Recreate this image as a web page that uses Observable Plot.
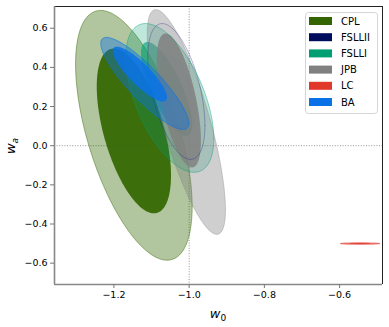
<!DOCTYPE html>
<html>
<head>
<meta charset="utf-8">
<script src="https://cdn.jsdelivr.net/npm/d3@7"></script>
<script src="https://cdn.jsdelivr.net/npm/@observablehq/plot@0.6"></script>
<style>
  html, body { margin: 0; padding: 0; background: #fff; }
  #chart { position: relative; width: 389px; height: 327px; }
</style>
</head>
<body>
<div id="chart"></div>
<script>
// ---- data ----
const models = ["CPL", "FSLLII", "FSLLI", "JPB", "LC", "BA"];
// outer (2σ) contour: centre, half-extent along each axis, correlation
const outerW0  = [-1.147, -1.034, -1.0515, -1.0075, -0.546, -1.118];
const outerWa  = [0.053, 0.277, 0.244, 0.121, -0.500, 0.318];
const outerSW0 = [0.155, 0.076, 0.117, 0.104, 0.052, 0.117];
const outerSWa = [0.638, 0.347, 0.380, 0.574, 0.004, 0.235];
const outerRho = [-0.57, -0.50, -0.55, -0.78, 0.0, -0.87];
// inner (1σ) contour
const innerW0  = [-1.147, -1.030, -1.060, -1.0275, -0.546, -1.131];
const innerWa  = [0.0755, 0.260, 0.290, 0.231, -0.500, 0.366];
const innerSW0 = [0.0987, 0.047, 0.068, 0.0587, 0.030, 0.072];
const innerSWa = [0.421, 0.210, 0.240, 0.342, 0.0025, 0.140];
const innerRho = [-0.54, -0.50, -0.75, -0.60, 0.0, -0.85];
const xTicks = [-1.2, -1.0, -0.8, -0.6];
const yTicks = [-0.6, -0.4, -0.2, 0.0, 0.2, 0.4, 0.6];

// ---- styles ----
const palette = {CPL: "#336600", FSLLII: "#000d5c", FSLLI: "#009e73", JPB: "#808080", LC: "#e0392b", BA: "#0a72e6"};
const outerFillOp = {CPL: 0.38, FSLLII: 0.04, FSLLI: 0.25, JPB: 0.38, LC: 0.5, BA: 0.40};
const innerFillOp = {CPL: 0.92, FSLLII: 0.06, FSLLI: 0.60, JPB: 0.85, LC: 0.9, BA: 0.85};
const outerStrokeOp = {CPL: 0.45, FSLLII: 0, FSLLI: 0, JPB: 0.35, LC: 0.6, BA: 0.6};
const lineOnTop = {FSLLII: 0.4, FSLLI: 0.5};

const xDomain = [-1.358, -0.486];
const yDomain = [-0.709, 0.711];

function ellipse(cx, cy, sx, sy, r, N = 160) {
  const pts = [];
  const q = Math.sqrt(1 - r * r);
  for (let i = 0; i <= N; i++) {
    const t = 2 * Math.PI * i / N;
    pts.push({w0: cx + sx * Math.cos(t), wa: cy + sy * (r * Math.cos(t) + q * Math.sin(t))});
  }
  return pts;
}

const marks = [
  Plot.ruleX([-1], {stroke: "#777", strokeWidth: 0.8, strokeDasharray: "1,1.6"}),
  Plot.ruleY([0], {stroke: "#777", strokeWidth: 0.8, strokeDasharray: "1,1.6"})
];
const outlines = [];
models.forEach((m, i) => {
  const o = ellipse(outerW0[i], outerWa[i], outerSW0[i], outerSWa[i], outerRho[i]);
  const n = ellipse(innerW0[i], innerWa[i], innerSW0[i], innerSWa[i], innerRho[i]);
  marks.push(Plot.line(o, {x: "w0", y: "wa", fill: palette[m], fillOpacity: outerFillOp[m],
    stroke: palette[m], strokeOpacity: outerStrokeOp[m], strokeWidth: 1, clip: true}));
  marks.push(Plot.line(n, {x: "w0", y: "wa", fill: palette[m], fillOpacity: innerFillOp[m],
    stroke: "none", clip: true}));
  if (lineOnTop[m]) {
    outlines.push(Plot.line(o, {x: "w0", y: "wa", fill: "none", stroke: m === "FSLLII" ? "#1a2a8a" : palette[m],
      strokeOpacity: lineOnTop[m], strokeWidth: 0.85, clip: true}));
  }
  if (m === "JPB") marks.push(...outlines);
});
marks.push(
  Plot.ruleX([xDomain[1]], {stroke: "#222", strokeWidth: 1}),
  Plot.ruleY([yDomain[1]], {stroke: "#222", strokeWidth: 1}),
  Plot.ruleX([xDomain[0]], {stroke: "#888", strokeWidth: 1.6}),
  Plot.ruleY([yDomain[0]], {stroke: "#888", strokeWidth: 1.6}),
  Plot.axisX({ticks: xTicks, tickSize: 4, tickPadding: 3, stroke: "#777", tickFormat: d3.format(".1f"), label: null}),
  Plot.axisY({ticks: yTicks, tickSize: 4, tickPadding: 3, stroke: "#777", tickFormat: d3.format(".1f"), label: null})
);

const svg = Plot.plot({
  width: 389, height: 327,
  marginLeft: 54, marginRight: 7, marginTop: 6, marginBottom: 43,
  x: {domain: xDomain},
  y: {domain: yDomain},
  style: {fontFamily: "DejaVu Sans", fontSize: "9.5px", color: "black", background: "white"},
  marks
});

const s = d3.select(svg);
// axis labels
const xl = s.append("text").attr("x", 218).attr("y", 318).attr("text-anchor", "middle")
  .attr("font-family", "DejaVu Sans").attr("font-size", 13);
xl.append("tspan").attr("font-style", "italic").text("w");
xl.append("tspan").attr("font-size", 9).attr("dy", 2.5).text("0");
const yl = s.append("text").attr("transform", "translate(15,146) rotate(-90)").attr("text-anchor", "middle")
  .attr("font-family", "DejaVu Sans").attr("font-size", 13);
yl.append("tspan").attr("font-style", "italic").text("w");
yl.append("tspan").attr("font-size", 9).attr("font-style", "italic").attr("dy", 2.5).text("a");

// legend
const lg = s.append("g");
lg.append("rect").attr("x", 305.5).attr("y", 12.5).attr("width", 72).attr("height", 101).attr("rx", 3)
  .attr("fill", "white").attr("fill-opacity", 0.85).attr("stroke", "#d5d5d5");
models.forEach((m, i) => {
  const cy = 21 + i * 16.2;
  lg.append("rect").attr("x", 309).attr("y", cy - 4).attr("width", 23).attr("height", 8).attr("fill", palette[m]);
  lg.append("text").attr("x", 341).attr("y", cy).attr("dy", "0.35em").attr("text-anchor", "start")
    .attr("font-family", "DejaVu Sans").attr("font-size", 10).attr("fill", "black").text(m);
});

document.getElementById("chart").appendChild(svg);
</script>
</body>
</html>
